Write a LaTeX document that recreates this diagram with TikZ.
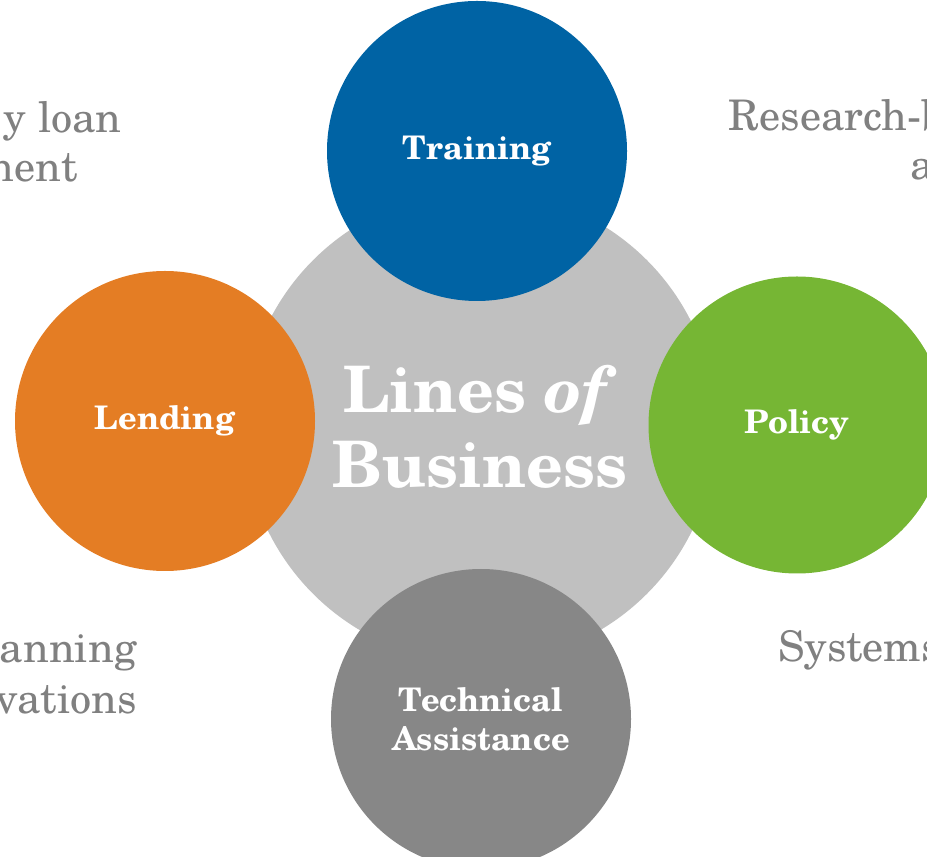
\documentclass[tikz,border=0pt]{standalone}
\usepackage{fontspec}
\setmainfont{TeX Gyre Schola}

\definecolor{lobgray}{RGB}{192,192,192}
\definecolor{trainblue}{RGB}{0,99,164}
\definecolor{lendorange}{RGB}{228,125,36}
\definecolor{policygreen}{RGB}{118,182,52}
\definecolor{techgray}{RGB}{135,135,135}
\definecolor{sidegray}{RGB}{128,128,128}

\tikzset{
  bubble/.style={circle, minimum size=6cm, inner sep=0pt, text=white, align=center,
    font=\fontsize{18.5}{22}\selectfont\bfseries},
  sidetext/.style={text=sidegray, inner sep=0pt, font=\fontsize{24}{27}\selectfont}
}

\begin{document}
\begin{tikzpicture}
\useasboundingbox (0,0) rectangle (18.54,17.12);

% centre
\node[circle, fill=lobgray, minimum size=9.44cm, inner sep=0pt, text=white, align=center,
  font=\fontsize{36.5}{43}\selectfont\bfseries] (lob) at (9.60,8.58) {Lines \textit{of}\\Business};

% four lines
\node[bubble, fill=trainblue] (training) at (9.54,14.10) {Training};
\node[bubble, fill=lendorange] (lending) at (3.30,8.70) {Lending};
\node[bubble, fill=policygreen, minimum size=5.94cm] (policy) at (15.94,8.62) {Policy};
\node[bubble, fill=techgray] (techassist) at (9.62,2.74) {Technical\\Assistance};

% side texts (cut at the page edge)
\node[sidetext, anchor=base east] (tlone) at (2.44,14.46) {y loan};
\node[sidetext, anchor=base east] (tltwo) at (1.56,13.48) {nent};
\node[sidetext, anchor=base west] (trone) at (14.56,14.50) {Research-b};
\node[sidetext, anchor=base west] (trtwo) at (18.20,13.52) {a};
\node[sidetext, anchor=base east] (blone) at (2.74,3.86) {anning};
\node[sidetext, anchor=base east] (bltwo) at (2.74,2.86) {vations};
\node[sidetext, anchor=base west] (brone) at (15.56,3.90) {Systems};
\end{tikzpicture}
\end{document}
